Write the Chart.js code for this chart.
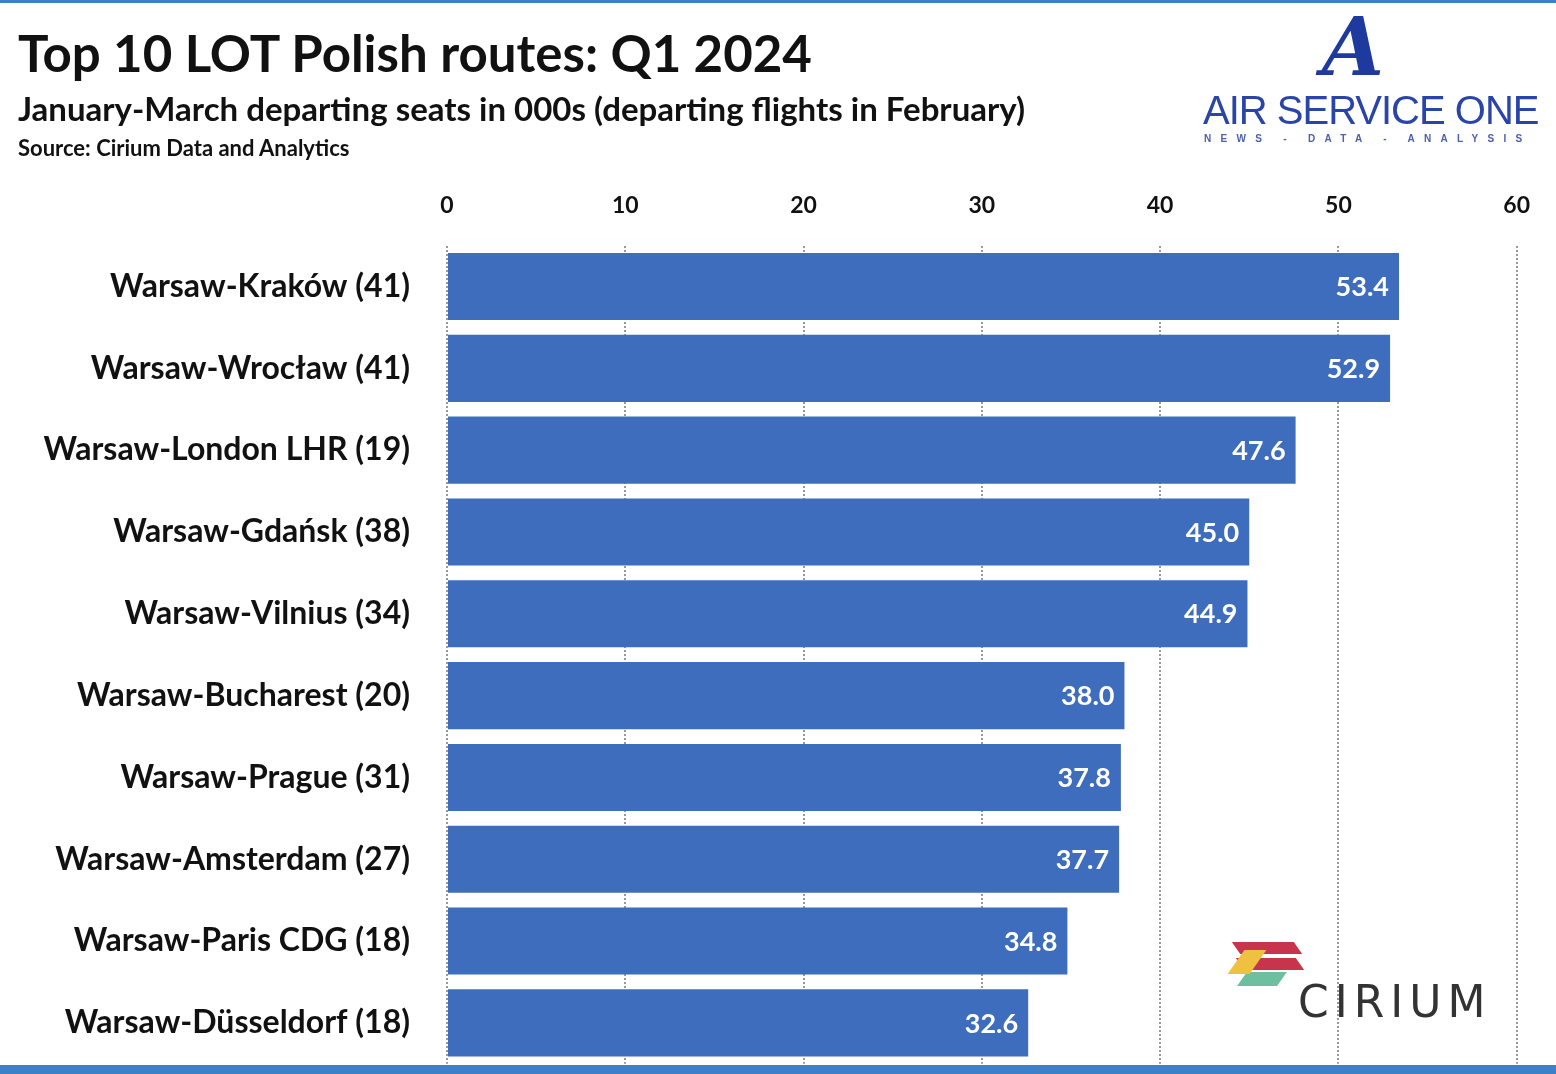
<!DOCTYPE html>
<html>
<head>
<meta charset="utf-8">
<script src="https://cdn.jsdelivr.net/npm/chart.js@4"></script>
<style>
  body { margin:0; width:1556px; height:1074px; background:#fff; font-family:Lato, sans-serif; overflow:hidden; position:relative; }
  #wrap { position:absolute; left:0; top:0; width:1556px; height:1074px; overflow:hidden; }
  .t { position:absolute; left:18px; color:#111; font-weight:bold; white-space:nowrap; }
  #topline { position:absolute; left:0; top:0; width:1556px; height:3px; background:#3f7fc6; }
  #botline { position:absolute; left:0; top:1065px; width:1556px; height:9px; background:#3f7fc6; }
</style>
</head>
<body>
<div id="wrap"><canvas id="myChart" width="1556" height="1112"></canvas></div>
<div id="topline"></div>
<div id="botline"></div>
<div class="t" style="top:22px;font-size:51px;">Top 10 LOT Polish routes: Q1 2024</div>
<div class="t" style="top:88px;font-size:33px;">January-March departing seats in 000s (departing flights in February)</div>
<div class="t" style="top:134px;font-size:22px;">Source: Cirium Data and Analytics</div>
<div style="position:absolute;left:1322px;top:0px;font:italic bold 80px 'DejaVu Serif',serif;color:#1f3a9e;">A</div>
<div style="position:absolute;left:1203px;top:88px;font:40px 'Liberation Sans',sans-serif;color:#2a45a8;letter-spacing:-1px;">AIR SERVICE ONE</div>
<div style="position:absolute;left:1204px;top:133px;font:bold 10px 'Liberation Sans',sans-serif;color:#4a60b0;letter-spacing:9.3px;">NEWS - DATA - ANALYSIS</div>
<div style="position:absolute;left:1236px;top:942px;width:62px;height:12px;background:#c8344c;transform:skewX(35deg);"></div>
<div style="position:absolute;left:1240px;top:958px;width:60px;height:12px;background:#c8344c;transform:skewX(35deg);"></div>
<div style="position:absolute;left:1242px;top:972px;width:40px;height:14px;background:#6cc0a0;transform:skewX(-35deg);"></div>
<div style="position:absolute;left:1236px;top:950px;width:22px;height:24px;background:#f0c040;transform:skewX(-35deg);"></div>
<div style="position:absolute;left:1298px;top:976px;font:44px 'DejaVu Sans',sans-serif;color:#333;letter-spacing:6px;">CIRIUM</div>
<script>
const routes = ['Warsaw-Kraków (41)', 'Warsaw-Wrocław (41)', 'Warsaw-London LHR (19)', 'Warsaw-Gdańsk (38)',
  'Warsaw-Vilnius (34)', 'Warsaw-Bucharest (20)', 'Warsaw-Prague (31)', 'Warsaw-Amsterdam (27)',
  'Warsaw-Paris CDG (18)', 'Warsaw-Düsseldorf (18)'];
const seats = [53.4, 52.9, 47.6, 45.0, 44.9, 38.0, 37.8, 37.7, 34.8, 32.6];
const xTicks = [0, 10, 20, 30, 40, 50, 60];

const barLabels = {
  id: 'barLabels',
  afterDatasetsDraw(chart) {
    const c = chart.ctx;
    const meta = chart.getDatasetMeta(0);
    c.save();
    c.font = 'bold 27px Lato';
    c.fillStyle = '#fff';
    c.textAlign = 'right';
    c.textBaseline = 'middle';
    meta.data.forEach((bar, i) => {
      c.fillText(seats[i].toFixed(1), bar.x - 10, bar.y + 1);
    });
    c.restore();
  }
};

const ctx = document.getElementById('myChart');
new Chart(ctx, {
  type: 'bar',
  data: {
    labels: routes,
    datasets: [{
      data: seats,
      backgroundColor: '#3f6dbd',
      barPercentage: 0.82,
      categoryPercentage: 1
    }]
  },
  options: {
    indexAxis: 'y',
    responsive: false,
    animation: false,
    devicePixelRatio: 1,
    layout: { padding: { top: 166, right: 34, bottom: 0, left: 0 } },
    plugins: { legend: { display: false }, tooltip: { enabled: false } },
    scales: {
      x: {
        position: 'top',
        min: 0, max: 60,
        afterBuildTicks: s => { s.ticks = xTicks.map(v => ({ value: v })); },
        grid: { color: '#999', lineWidth: 2, drawTicks: false },
        border: { display: false, dash: [2, 2] },
        ticks: { color: '#111', font: { family: 'Lato', weight: 'bold', size: 23 }, padding: 26 }
      },
      y: {
        afterFit: s => { s.width = 447; },
        grid: { display: false },
        border: { display: false },
        ticks: { color: '#111', font: { family: 'Lato', weight: 'bold', size: 32 }, padding: 29 }
      }
    }
  },
  plugins: [barLabels]
});
</script>
</body>
</html>
